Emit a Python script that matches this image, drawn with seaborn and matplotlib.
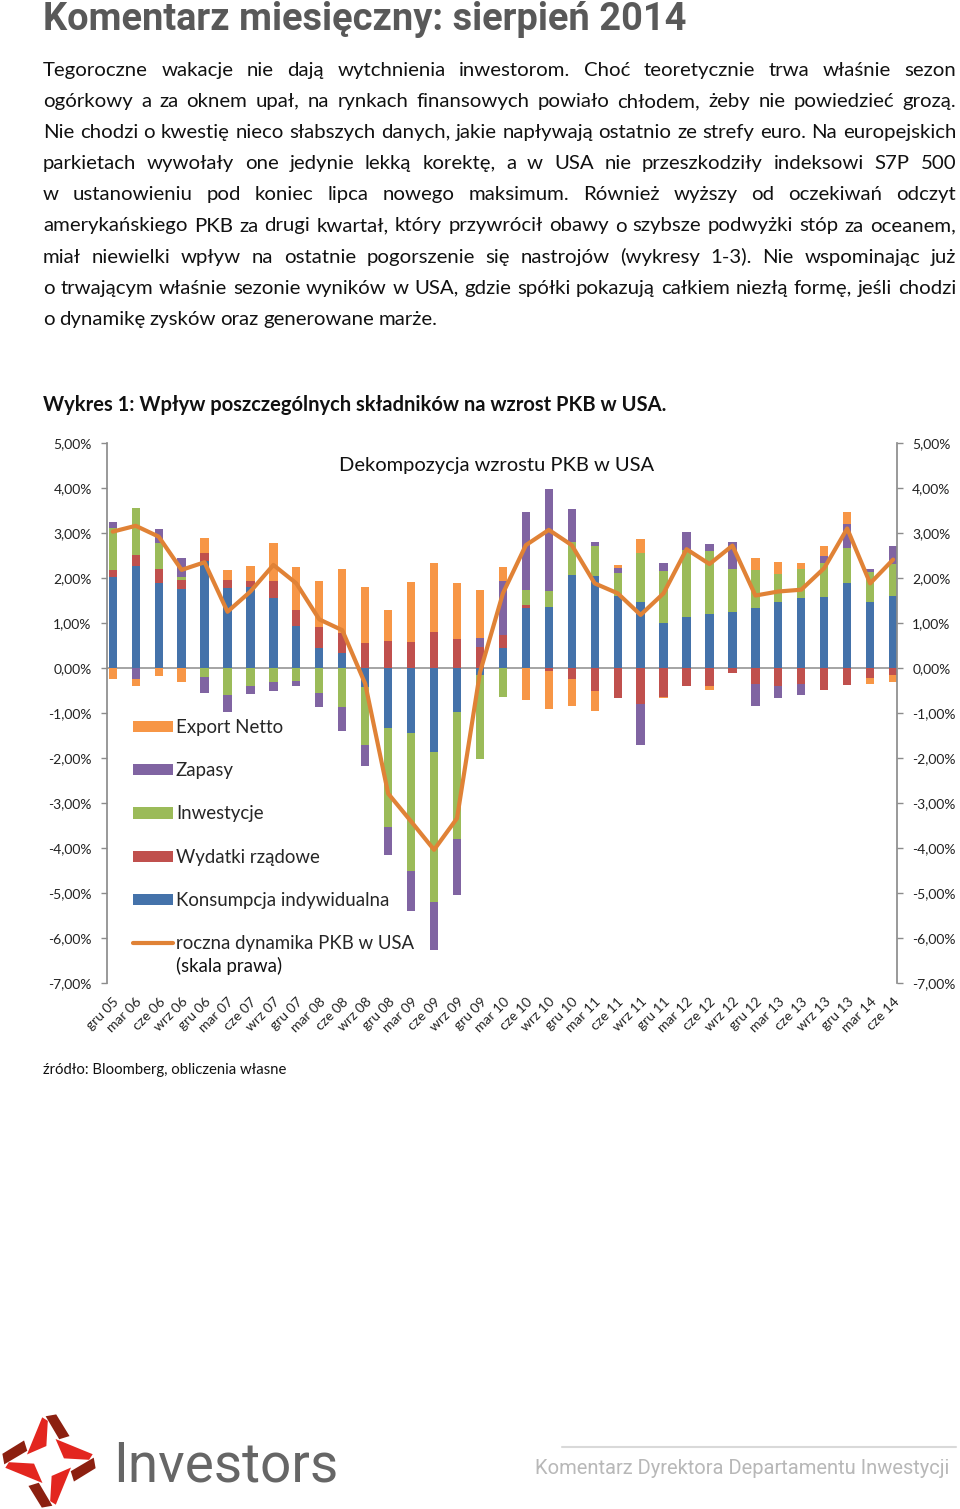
import matplotlib
matplotlib.use("Agg")
import matplotlib.pyplot as plt
from matplotlib.patches import Patch, Polygon
from matplotlib.lines import Line2D
from matplotlib.ticker import FuncFormatter
import seaborn as sns
import numpy as np
import pandas as pd

sns.set_theme(style="white")
plt.rcParams["font.family"] = ["Lato", "DejaVu Sans"]

W, H = 960, 1509

# ---------------- data ----------------
kwartaly = ["gru 05", "mar 06", "cze 06", "wrz 06", "gru 06", "mar 07", "cze 07",
            "wrz 07", "gru 07", "mar 08", "cze 08", "wrz 08", "gru 08", "mar 09",
            "cze 09", "wrz 09", "gru 09", "mar 10", "cze 10", "wrz 10", "gru 10",
            "mar 11", "cze 11", "wrz 11", "gru 11", "mar 12", "cze 12", "wrz 12",
            "gru 12", "mar 13", "cze 13", "wrz 13", "gru 13", "mar 14", "cze 14"]

konsumpcja = [2.03, 2.27, 1.88, 1.76, 2.38, 1.77, 1.81, 1.55, 0.93, 0.45, 0.34,
              -0.43, -1.34, -1.44, -1.86, -0.97, -0.15, 0.44, 1.33, 1.35, 2.07,
              2.05, 1.61, 1.46, 0.99, 1.13, 1.21, 1.24, 1.34, 1.47, 1.56, 1.57,
              1.88, 1.47, 1.59]
wydatki = [0.15, 0.24, 0.31, 0.20, 0.17, 0.19, 0.13, 0.39, 0.36, 0.47, 0.44,
           0.55, 0.61, 0.58, 0.79, 0.64, 0.47, 0.30, 0.06, -0.07, -0.25,
           -0.51, -0.67, -0.79, -0.64, -0.39, -0.39, -0.12, -0.35, -0.39, -0.36,
           -0.48, -0.37, -0.22, -0.15]
inwestycje = [0.94, 1.04, 0.58, 0.07, -0.19, -0.61, -0.39, -0.30, -0.28, -0.56,
              -0.86, -1.28, -2.19, -3.07, -3.33, -2.84, -1.88, -0.65, 0.35, 0.36,
              0.74, 0.67, 0.51, 1.09, 1.16, 1.50, 1.39, 0.95, 0.84, 0.63, 0.63,
              0.77, 0.78, 0.67, 0.73]
zapasy = [0.13, -0.24, 0.32, 0.42, -0.37, -0.36, -0.19, -0.21, -0.13, -0.30,
          -0.54, -0.47, -0.63, -0.89, -1.07, -1.24, 0.19, 1.19, 1.72, 2.26,
          0.72, 0.07, 0.10, -0.93, 0.19, 0.39, 0.15, 0.61, -0.50, -0.27, -0.25,
          0.16, 0.53, 0.07, 0.40]
eksport = [-0.25, -0.17, -0.18, -0.31, 0.33, 0.21, 0.32, 0.83, 0.96, 1.02, 1.42,
           1.24, 0.68, 1.34, 1.55, 1.24, 1.08, 0.32, -0.70, -0.83, -0.59, -0.44,
           0.07, 0.31, -0.03, 0.00, -0.10, 0.00, 0.26, 0.26, 0.15, 0.21, 0.28,
           -0.13, -0.17]
pkb_rr = [3.03, 3.16, 2.92, 2.18, 2.35, 1.25, 1.70, 2.29, 1.88, 1.08, 0.84,
          -0.35, -2.79, -3.41, -4.04, -3.34, -0.10, 1.66, 2.73, 3.07, 2.73,
          1.88, 1.66, 1.18, 1.66, 2.64, 2.31, 2.72, 1.61, 1.70, 1.74, 2.22,
          3.10, 1.88, 2.41]

nazwy = ["Konsumpcja indywidualna", "Wydatki rządowe", "Inwestycje", "Zapasy", "Export Netto"]
kolory = ["#4472AA", "#C0504D", "#9BBB59", "#8064A2", "#F79646"]
kolor_linii = "#E08236"

akapit = [
    "Tegoroczne wakacje nie dają wytchnienia inwestorom. Choć teoretycznie trwa właśnie sezon",
    "ogórkowy a za oknem upał, na rynkach finansowych powiało chłodem, żeby nie powiedzieć grozą.",
    "Nie chodzi o kwestię nieco słabszych danych, jakie napływają ostatnio ze strefy euro. Na europejskich",
    "parkietach wywołały one jedynie lekką korektę, a w USA nie przeszkodziły indeksowi S7P 500",
    "w ustanowieniu pod koniec lipca nowego maksimum. Również wyższy od oczekiwań odczyt",
    "amerykańskiego PKB za drugi kwartał, który przywrócił obawy o szybsze podwyżki stóp za oceanem,",
    "miał niewielki wpływ na ostatnie pogorszenie się nastrojów (wykresy 1-3). Nie wspominając już",
    "o trwającym właśnie sezonie wyników w USA, gdzie spółki pokazują całkiem niezłą formę, jeśli chodzi",
    "o dynamikę zysków oraz generowane marże.",
]

fig = plt.figure(figsize=(W / 100, H / 100), dpi=100)
fig.patch.set_facecolor("white")
renderer = fig.canvas.get_renderer()


def fx(px):
    return px / W


def fy(py):
    return 1 - py / H


def width_of(t):
    return t.get_window_extent(renderer).width


def fit_text(x, y, s, target_w, **kw):
    # text sized so that its width matches the reference
    t = fig.text(fx(x), fy(y), s, fontsize=20, va="baseline", **kw)
    t.set_fontsize(20 * target_w / width_of(t))
    return t


# ---------------- header + text ----------------
fit_text(43, 30, "Komentarz miesięczny: sierpień 2014", 643, fontweight="bold",
         color="#595959", family=["Roboto", "DejaVu Sans"])

# font size: the fullest line fills the column with normal spaces
probe = fig.text(0, 0, "", fontsize=14)
rozmiar = 99
for line in akapit[:-1]:
    probe.set_text(line)
    rozmiar = min(rozmiar, 14 * 913 / width_of(probe))
probe.remove()


def justified(line, y, x0=43, x1=956, size=14, justify=True):
    words = line.split(" ")
    texts = [fig.text(0, fy(y), w, fontsize=size, color="#111111", va="baseline")
             for w in words]
    widths = [width_of(t) for t in texts]
    if justify and len(words) > 1:
        gap = (x1 - x0 - sum(widths)) / (len(words) - 1)
    else:
        gap = size * 0.3
    x = x0
    for t, w in zip(texts, widths):
        t.set_x(fx(x))
        x += w + gap


for i, line in enumerate(akapit):
    justified(line, 76 + i * 31.1, size=rozmiar, justify=(i < len(akapit) - 1))

fit_text(43, 411, "Wykres 1: Wpływ poszczególnych składników na wzrost PKB w USA.", 625,
         fontweight="bold", color="#111111")

# ---------------- chart ----------------
ax = fig.add_axes([fx(107), fy(983), 790 / W, 540 / H])

serie = [konsumpcja, wydatki, inwestycje, zapasy, eksport]
pos_base = np.zeros(len(kwartaly))
neg_base = np.zeros(len(kwartaly))
for vals, col in zip(serie, kolory):
    vals = np.array(vals, dtype=float)
    bottom = np.where(vals >= 0, pos_base, neg_base)
    sns.barplot(x=kwartaly, y=vals, bottom=bottom, color=col, saturation=1,
                width=0.36, errorbar=None, linewidth=0, ax=ax)
    pos_base += np.clip(vals, 0, None)
    neg_base += np.clip(vals, None, 0)

ax2 = ax.twinx()
sns.lineplot(x=np.arange(len(kwartaly)), y=pkb_rr, color=kolor_linii, linewidth=3.0,
             solid_joinstyle="round", ax=ax2)

ax.axhline(0, color="#8c8c8c", linewidth=1.1, zorder=0.5)

pct = FuncFormatter(lambda v, p: f"{v:.2f}%".replace(".", ","))
for a in (ax, ax2):
    a.set_ylim(-7, 5)
    a.set_yticks(np.arange(-7, 6, 1))
    a.yaxis.set_major_formatter(pct)
    a.set_xlim(-0.25, 34.17)
    a.set_xlabel("")
    a.set_ylabel("")
    for s in ("top", "bottom"):
        a.spines[s].set_visible(False)
    a.spines["left"].set_color("#8c8c8c")
    a.spines["right"].set_color("#8c8c8c")
    a.tick_params(axis="y", direction="out", length=4, width=1, color="#8c8c8c",
                  labelsize=10, labelcolor="#222222", pad=7)

ax.spines["right"].set_visible(False)
ax2.spines["left"].set_visible(False)

ax.set_xticks(np.arange(len(kwartaly)))
ax.set_xticklabels(kwartaly, rotation=45, ha="right", rotation_mode="anchor",
                   fontsize=10, color="#222222")
ax.tick_params(axis="x", length=0, pad=9)

fig.text(fx(497), fy(471), "Dekompozycja wzrostu PKB w USA", fontsize=14.5,
         color="#111111", ha="center", va="baseline")

uchwyty = [Patch(facecolor=kolory[i], edgecolor="none") for i in (4, 3, 2, 1, 0)]
uchwyty.append(Line2D([], [], color=kolor_linii, linewidth=3.0))
etykiety = [nazwy[i] for i in (4, 3, 2, 1, 0)] + ["roczna dynamika PKB w USA"]
leg = ax2.legend(uchwyty, etykiety, loc="upper left", bbox_to_anchor=(fx(133), fy(719)),
                 bbox_transform=fig.transFigure, frameon=False, fontsize=13.4,
                 handlelength=2.15, handleheight=0.55, handletextpad=0.15,
                 labelspacing=1.41, borderpad=0, borderaxespad=0)
# second line of the last label, placed under it once the legend is laid out
ax2.annotate("(skala prawa)", xy=(0, 0), xycoords=leg.get_texts()[-1],
             xytext=(0, -5), textcoords="offset pixels", ha="left", va="top",
             fontsize=13.4, color="#111111", annotation_clip=False, zorder=10)

fit_text(43, 1074, "źródło: Bloomberg, obliczenia własne", 244, color="#111111")

# ---------------- footer ----------------
lax = fig.add_axes([fx(-1), fy(1511), 100 / W, 100 / H])
lax.set_xlim(-1.12, 1.12)
lax.set_ylim(-1.12, 1.12)
lax.axis("off")
czerwony = [(-0.46, 0.23), (0.02, 0.99), (0.13, 0.89), (0.0, 0.34)]
bordo = [(0.1, 1.0), (0.34, 1.0), (0.55, 0.47), (0.31, 0.44)]
for k in range(4):
    th = np.deg2rad(10 + 90 * k)
    rot = np.array([[np.cos(th), -np.sin(th)], [np.sin(th), np.cos(th)]])
    lax.add_patch(Polygon(np.array(czerwony) @ rot.T, closed=True,
                          facecolor="#E3261F", edgecolor="none"))
    lax.add_patch(Polygon(np.array(bordo) @ rot.T, closed=True,
                          facecolor="#8C2010", edgecolor="none"))

fit_text(113, 1482, "Investors", 225, color="#666666", family=["Roboto", "DejaVu Sans"])
fig.add_artist(Line2D([fx(562), fx(956)], [fy(1447), fy(1447)], color="#d9d9d9",
                      linewidth=1.5))
fit_text(535, 1474, "Komentarz Dyrektora Departamentu Inwestycji", 416,
         color="#b8b8b8", family=["Roboto", "DejaVu Sans"])

fig.savefig("out.png", dpi=100, facecolor="white")
